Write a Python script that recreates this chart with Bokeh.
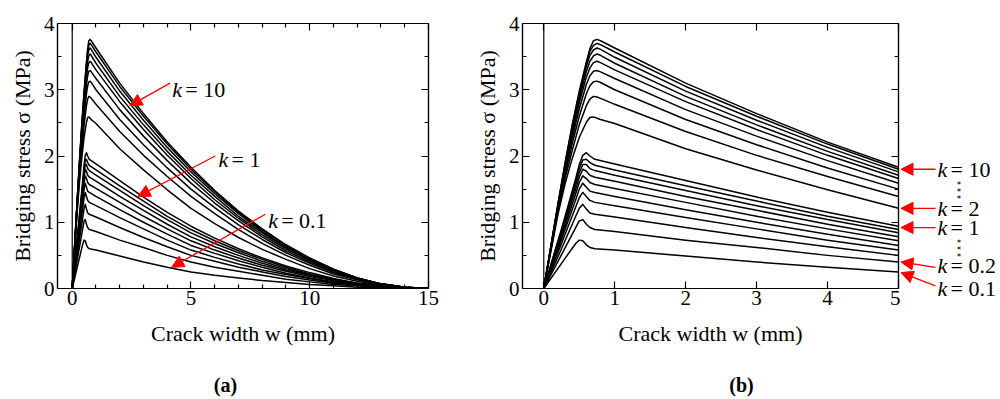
from bokeh.plotting import figure
from bokeh.models import (Range1d, FixedTicker, LinearAxis, Span, Arrow,
                          NormalHead, Label, ColumnDataSource)
from bokeh.layouts import row, column
from bokeh.embed import file_html
from bokeh.resources import INLINE

FONT = "Liberation Serif"

# crack width grids (mm)
w_low = [0, 0.25, 0.45, 0.5, 0.55, 0.6, 0.65, 0.72, 1, 2, 3, 4, 5, 6, 7, 8, 9, 10, 11, 12, 13, 14, 15]
w_high = [0, 0.2, 0.3, 0.4, 0.5, 0.6, 0.65, 0.7, 0.75, 0.8, 1, 2, 3, 4, 5, 6, 7, 8, 9, 10, 11, 12, 13, 14, 15]

# bridging stress (MPa), k = 0.1 ... 1
s_k01 = [0, 0.38, 0.68, 0.73, 0.72, 0.66, 0.62, 0.60, 0.58, 0.49, 0.40, 0.32, 0.25, 0.20, 0.16, 0.12, 0.09, 0.06, 0.04, 0.02, 0.01, 0.00, 0]
s_k02 = [0, 0.51, 0.92, 1.02, 1.04, 0.97, 0.92, 0.89, 0.86, 0.73, 0.62, 0.50, 0.40, 0.32, 0.26, 0.20, 0.14, 0.10, 0.06, 0.04, 0.02, 0.00, 0]
s_k03 = [0, 0.60, 1.09, 1.21, 1.27, 1.20, 1.14, 1.12, 1.08, 0.92, 0.77, 0.63, 0.50, 0.41, 0.32, 0.25, 0.18, 0.13, 0.08, 0.05, 0.02, 0.01, 0]
s_k04 = [0, 0.68, 1.23, 1.37, 1.45, 1.39, 1.33, 1.30, 1.25, 1.07, 0.90, 0.73, 0.58, 0.47, 0.37, 0.28, 0.21, 0.15, 0.09, 0.05, 0.02, 0.01, 0]
s_k05 = [0, 0.74, 1.34, 1.50, 1.59, 1.53, 1.47, 1.45, 1.39, 1.19, 1.00, 0.82, 0.65, 0.53, 0.42, 0.32, 0.23, 0.16, 0.10, 0.06, 0.03, 0.01, 0]
s_k06 = [0, 0.78, 1.43, 1.60, 1.70, 1.66, 1.60, 1.57, 1.51, 1.30, 1.09, 0.90, 0.72, 0.58, 0.46, 0.35, 0.26, 0.18, 0.12, 0.06, 0.03, 0.01, 0]
s_k07 = [0, 0.82, 1.50, 1.68, 1.80, 1.77, 1.71, 1.68, 1.62, 1.39, 1.18, 0.97, 0.78, 0.63, 0.50, 0.38, 0.28, 0.20, 0.12, 0.07, 0.03, 0.01, 0]
s_k08 = [0, 0.85, 1.56, 1.75, 1.87, 1.87, 1.81, 1.78, 1.71, 1.48, 1.25, 1.04, 0.84, 0.68, 0.54, 0.41, 0.30, 0.21, 0.13, 0.08, 0.03, 0.01, 0]
s_k09 = [0, 0.88, 1.61, 1.81, 1.94, 1.95, 1.90, 1.86, 1.79, 1.55, 1.32, 1.09, 0.89, 0.72, 0.57, 0.44, 0.32, 0.22, 0.14, 0.08, 0.04, 0.01, 0]
s_k1 = [0, 0.90, 1.66, 1.87, 2.01, 2.05, 2.00, 1.95, 1.88, 1.63, 1.38, 1.15, 0.94, 0.76, 0.60, 0.46, 0.34, 0.24, 0.15, 0.08, 0.04, 0.01, 0]

# bridging stress (MPa), k = 2 ... 10
s_k2 = [0, 1.12, 1.58, 1.96, 2.28, 2.51, 2.58, 2.59, 2.57, 2.55, 2.49, 2.11, 1.79, 1.49, 1.21, 0.98, 0.77, 0.59, 0.44, 0.30, 0.19, 0.11, 0.05, 0.01, 0]
s_k3 = [0, 1.16, 1.66, 2.08, 2.47, 2.76, 2.86, 2.90, 2.89, 2.87, 2.78, 2.37, 2.01, 1.69, 1.39, 1.13, 0.89, 0.68, 0.50, 0.35, 0.22, 0.13, 0.06, 0.01, 0]
s_k4 = [0, 1.19, 1.72, 2.18, 2.60, 2.94, 3.06, 3.12, 3.13, 3.11, 3.00, 2.55, 2.17, 1.82, 1.50, 1.22, 0.96, 0.74, 0.54, 0.38, 0.24, 0.14, 0.06, 0.02, 0]
s_k5 = [0, 1.21, 1.76, 2.26, 2.71, 3.08, 3.21, 3.28, 3.29, 3.27, 3.17, 2.70, 2.30, 1.93, 1.59, 1.29, 1.02, 0.78, 0.57, 0.40, 0.25, 0.14, 0.06, 0.02, 0]
s_k6 = [0, 1.23, 1.80, 2.32, 2.80, 3.19, 3.33, 3.41, 3.43, 3.41, 3.30, 2.82, 2.40, 2.01, 1.66, 1.34, 1.06, 0.81, 0.60, 0.42, 0.27, 0.15, 0.07, 0.02, 0]
s_k7 = [0, 1.25, 1.83, 2.37, 2.86, 3.28, 3.43, 3.51, 3.54, 3.52, 3.40, 2.90, 2.47, 2.07, 1.71, 1.39, 1.09, 0.84, 0.62, 0.43, 0.27, 0.15, 0.07, 0.02, 0]
s_k8 = [0, 1.26, 1.86, 2.41, 2.91, 3.35, 3.52, 3.60, 3.63, 3.61, 3.49, 2.98, 2.54, 2.13, 1.76, 1.43, 1.13, 0.86, 0.63, 0.44, 0.28, 0.16, 0.07, 0.02, 0]
s_k9 = [0, 1.27, 1.88, 2.44, 2.95, 3.39, 3.58, 3.67, 3.70, 3.68, 3.57, 3.05, 2.60, 2.18, 1.80, 1.46, 1.15, 0.88, 0.65, 0.45, 0.29, 0.16, 0.07, 0.02, 0]
s_k10 = [0, 1.28, 1.90, 2.47, 2.98, 3.42, 3.62, 3.74, 3.76, 3.74, 3.63, 3.10, 2.64, 2.21, 1.83, 1.48, 1.17, 0.90, 0.66, 0.46, 0.29, 0.16, 0.07, 0.02, 0]

low_curves = [s_k01, s_k02, s_k03, s_k04, s_k05, s_k06, s_k07, s_k08, s_k09, s_k1]
high_curves = [s_k2, s_k3, s_k4, s_k5, s_k6, s_k7, s_k8, s_k9, s_k10]

y_ticks = [0, 1, 2, 3, 4]
y_minor = [0.5, 1.5, 2.5, 3.5]
xa_ticks = [0, 5, 10, 15]
xa_minor = [1, 2, 3, 4, 6, 7, 8, 9, 11, 12, 13, 14]
xb_ticks = [0, 1, 2, 3, 4, 5]

# k arrows to the right of panel (b)
kb_text = ["= 10", "= 2", "= 1", "= 0.2", "= 0.1"]
kb_tip = [1.80, 1.21, 0.92, 0.40, 0.24]
kb_tail = [1.80, 1.21, 0.92, 0.32, 0.04]
kb_label_y = [1.80, 1.21, 0.92, 0.34, 0.00]

captions = ["(a)", "(b)"]

H = 359          # height of the panels row
CAP_H = 40       # height of the caption strip below it
TOP = 23
BOTTOM = 71
EXTRA = 30       # px the right-hand strip reaches below the frames


def style_axis(ax, ticker, show_labels=True):
    ax.ticker = ticker
    ax.major_tick_in = 7
    ax.major_tick_out = 0
    ax.minor_tick_in = 4
    ax.minor_tick_out = 0
    ax.axis_line_color = "black"
    ax.axis_line_width = 1.2
    ax.major_tick_line_color = "black"
    ax.major_tick_line_width = 1.2
    ax.minor_tick_line_color = "black"
    ax.minor_tick_line_width = 1.2
    ax.major_label_text_font = FONT
    ax.axis_label_text_font = FONT
    ax.axis_label_text_font_style = "normal"
    ax.axis_label_text_font_size = "22px"
    ax.axis_label_text_color = "black"
    if show_labels:
        ax.major_label_text_font_size = "21px"
        ax.major_label_text_color = "black"
    else:
        ax.major_label_text_font_size = "0px"
        ax.major_label_text_color = None
        ax.major_label_standoff = 0


def k_label(p, x, y, rest):
    p.add_layout(Label(x=x, y=y, text="k", text_font=FONT, text_font_size="22px",
                       text_font_style="italic", text_baseline="middle", text_color="black"))
    p.add_layout(Label(x=x, y=y, x_offset=13, text=rest, text_font=FONT, text_font_size="22px",
                       text_baseline="middle", text_color="black"))


def red_arrow(p, xs, ys, xe, ye):
    p.add_layout(Arrow(end=NormalHead(size=12, fill_color="red", line_color="red", line_width=1),
                       x_start=xs, y_start=ys, x_end=xe, y_end=ye,
                       line_color="red", line_width=1.3))


def make_panel(x_start, x_end, xticks, xminor, width, border_right):
    p = figure(width=width, height=H, x_range=Range1d(x_start, x_end), y_range=Range1d(0, 4),
               output_backend="svg", toolbar_location=None,
               min_border_left=57, min_border_right=border_right,
               min_border_top=TOP, min_border_bottom=BOTTOM)
    p.xgrid.visible = False
    p.ygrid.visible = False
    p.outline_line_color = "black"
    p.outline_line_width = 1.2

    xt = FixedTicker(ticks=xticks, minor_ticks=xminor)
    yt = FixedTicker(ticks=y_ticks, minor_ticks=y_minor)
    style_axis(p.xaxis[0], xt)
    style_axis(p.yaxis[0], yt)
    p.xaxis[0].major_label_standoff = 2
    p.yaxis[0].major_label_standoff = 3
    p.xaxis[0].axis_label = "Crack width w (mm)"
    p.yaxis[0].axis_label = "Bridging stress σ (MPa)"
    p.xaxis[0].axis_label_standoff = 13
    p.yaxis[0].axis_label_standoff = 6

    top = LinearAxis()
    style_axis(top, FixedTicker(ticks=xticks, minor_ticks=xminor), show_labels=False)
    p.add_layout(top, "above")
    right = LinearAxis()
    style_axis(right, FixedTicker(ticks=y_ticks, minor_ticks=y_minor), show_labels=False)
    p.add_layout(right, "right")

    p.add_layout(Span(location=0, dimension="height", line_color="black", line_width=1.2))

    src = ColumnDataSource(dict(
        xs=[w_low] * len(low_curves) + [w_high] * len(high_curves),
        ys=low_curves + high_curves,
    ))
    p.multi_line(xs="xs", ys="ys", source=src, line_color="black", line_width=1.5,
                 line_join="round")
    return p


pa = make_panel(-0.62, 15, xa_ticks, xa_minor, 465, 37)
pb = make_panel(-0.3, 5, xb_ticks, [], 435, 2)

# panel (a) annotations
red_arrow(pa, 4.12, 3.10, 2.43, 2.76)
k_label(pa, 4.21, 3.01, "= 10")
red_arrow(pa, 6.02, 2.00, 2.77, 1.39)
k_label(pa, 6.16, 1.95, "= 1")
red_arrow(pa, 8.13, 1.12, 4.19, 0.32)
k_label(pa, 8.25, 1.03, "= 0.1")


def blank(width, height, xr, yr, top, bottom):
    f = figure(width=width, height=height, x_range=xr, y_range=yr,
               output_backend="svg", toolbar_location=None,
               x_axis_location=None, y_axis_location=None,
               min_border_left=0, min_border_right=0,
               min_border_top=top, min_border_bottom=bottom)
    f.frame_align = False
    f.xgrid.visible = False
    f.ygrid.visible = False
    f.outline_line_color = None
    return f


# strip to the right of panel (b): x counted in pixels, same stress scale
frame_h = H - TOP - BOTTOM
pc = blank(97, H, Range1d(0, 97), Range1d(-4 * EXTRA / frame_h, 4), TOP, BOTTOM - EXTRA)
for txt, tip, tail, ly in zip(kb_text, kb_tip, kb_tail, kb_label_y):
    red_arrow(pc, 35, tail, 0.5, tip)
    k_label(pc, 37, ly, txt)
for yy in (1.50, 0.63):
    pc.add_layout(Label(x=58, y=yy, text="⋮", text_font="DejaVu Serif", text_font_size="20px",
                        text_font_style="bold", text_align="center", text_baseline="middle"))

# caption strip: x and y counted in pixels
cap = blank(997, CAP_H, Range1d(0, 997), Range1d(0, CAP_H), 0, 0)
for txt, cx in zip(captions, (225, 741)):
    cap.add_layout(Label(x=cx, y=15, text=txt, text_font=FONT, text_font_size="20px",
                         text_font_style="bold", text_align="center", text_baseline="middle",
                         text_color="black"))

layout = column(row(pa, pb, pc), cap)
open("out.html", "w").write(file_html(layout, INLINE))
